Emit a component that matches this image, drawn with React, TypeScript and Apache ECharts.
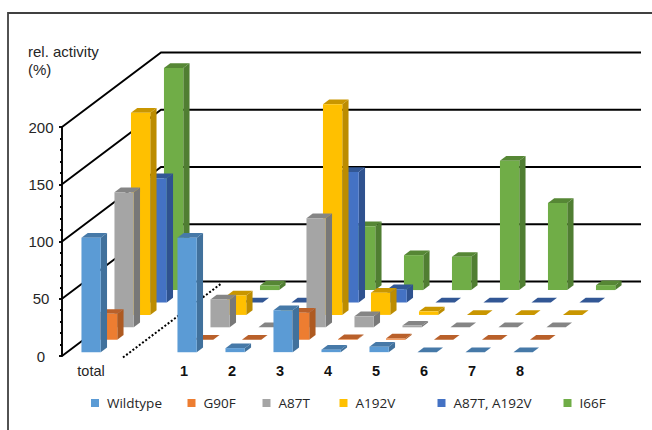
import React, { useEffect, useRef } from "react";
import * as echarts from "echarts";

// Enzyme activity per fraction, one row of bars per variant.
const categories = ["total", "", "1", "2", "3", "4", "5", "6", "7", "8"];
const wildtype = [100, null, 100, 3.5, 36.6, 2.2, 4.7, 0, 0, 0];
const g90f = [22.6, null, 0, 0, 23.5, 0.5, 1, 0, 0, 0];
const a87t = [118, null, 24.4, 0, 95.3, 9.6, 1.5, 0, 0, 0];
const a192v = [176.5, null, 17, 0, 184, 19.4, 3.1, 0, 0, 0];
const a87tA192v = [108.6, null, 0, 0, 113.9, 11.6, 0, 0, 0, 0];
const i66f = [194, null, 4, 0, 55.7, 30.5, 29, 113, 76, 4.3];
const yTicks = [0, 50, 100, 150, 200];

const seriesNames = ["Wildtype", "G90F", "A87T", "A192V", "A87T, A192V", "I66F"];
const seriesValues = [wildtype, g90f, a87t, a192v, a87tA192v, i66f];
const faceColors = ["#5B9BD5", "#ED7D31", "#A5A5A5", "#FFC000", "#4472C4", "#70AD47"];
const sideColors = ["#41719C", "#AE5A21", "#787878", "#BC8C00", "#2F528F", "#507E32"];
const topColors = ["#4679A8", "#B9602A", "#858585", "#C99600", "#325795", "#568735"];
const legendLefts = [91, 187.5, 262.5, 339.5, 437.5, 563.5];

// Oblique projection: the six variant rows recede up and to the right.
const WALL_DX = 99;
const WALL_DY = 74.5;
const ROW_DX = WALL_DX / seriesNames.length;
const ROW_DY = WALL_DY / seriesNames.length;
const BAR_WIDTH_RATIO = 0.402;
const BAR_DEPTH_RATIO = 0.38;
const DIVIDER_OFFSET = 0.77;

const barItem = (row: number) => (_params: any, api: any) => {
  const slot = api.size([1, 0])[0];
  const width = slot * BAR_WIDTH_RATIO;
  const [cx, topY] = api.coord([api.value(0), api.value(1)]);
  const baseY0 = api.coord([api.value(0), 0])[1];
  const inset = (1 - BAR_DEPTH_RATIO) / 2;
  const x0 = cx - width / 2 + (row + inset) * ROW_DX;
  const x1 = x0 + width;
  const yb = baseY0 - (row + inset) * ROW_DY;
  const yt = topY - (row + inset) * ROW_DY;
  const dx = ROW_DX * BAR_DEPTH_RATIO;
  const dy = ROW_DY * BAR_DEPTH_RATIO;
  const poly = (points: number[][], fill: string) => ({
    type: "polygon",
    shape: { points },
    style: { fill },
  });
  return {
    type: "group",
    children: [
      poly([[x1, yb], [x1 + dx, yb - dy], [x1 + dx, yt - dy], [x1, yt]], sideColors[row]),
      poly([[x0, yt], [x1, yt], [x1 + dx, yt - dy], [x0 + dx, yt - dy]], topColors[row]),
      poly([[x0, yb], [x1, yb], [x1, yt], [x0, yt]], faceColors[row]),
    ],
  };
};

// Receding grid lines from the value axis to the back wall, then across it.
const wallItem = (_params: any, api: any) => {
  const slot = api.size([1, 0])[0];
  const [firstCentre, y] = api.coord([0, api.value(0)]);
  const lastCentre = api.coord([categories.length - 1, api.value(0)])[0];
  const x = firstCentre - slot / 2;
  const right = lastCentre + slot / 2;
  return {
    type: "polyline",
    shape: {
      points: [
        [x, y],
        [x + WALL_DX, y - WALL_DY],
        [right + WALL_DX, y - WALL_DY],
      ],
    },
    style: { stroke: "#000", lineWidth: 1.9, fill: "none" },
  };
};

// Dotted floor line that sets the "total" bars apart from the fractions.
const dividerItem = (_params: any, api: any) => {
  const slot = api.size([1, 0])[0];
  const [centre, y] = api.coord([0, 0]);
  const x = centre + slot * DIVIDER_OFFSET;
  return {
    type: "line",
    shape: { x1: x, y1: y + 1.5, x2: x + WALL_DX, y2: y + 1.5 - WALL_DY },
    style: { stroke: "#000", lineWidth: 2, lineDash: [2, 2] },
  };
};

export default function App() {
  const ref = useRef<HTMLDivElement>(null);

  useEffect(() => {
    const chart = echarts.init(ref.current!, null, { renderer: "svg" });
    chart.setOption({
      animation: false,
      backgroundColor: "#fff",
      title: {
        text: "rel. activity\n(%)",
        left: 28,
        top: 42,
        textStyle: {
          fontFamily: "Liberation Sans",
          fontSize: 15,
          fontWeight: "normal",
          color: "#262626",
          lineHeight: 18,
        },
        padding: 0,
      },
      grid: { left: 62, right: 110, top: 127, bottom: 74 },
      xAxis: {
        type: "category",
        data: categories,
        axisLine: { show: false },
        axisTick: { show: false },
        axisLabel: {
          interval: 0,
          margin: 7,
          formatter: (v: string) =>
            v === "total" ? `{plain|${v}}` : v ? `{num|${v}}` : "",
          rich: {
            plain: {
              fontFamily: "Liberation Sans",
              fontSize: 14.5,
              color: "#262626",
              padding: [0, 0, 0, 10],
            },
            num: {
              fontFamily: "Liberation Sans",
              fontSize: 14.5,
              fontWeight: "bold",
              color: "#111",
              padding: [0, 0, 0, 4],
            },
          },
        },
      },
      yAxis: {
        type: "value",
        min: 0,
        max: 200,
        interval: 50,
        splitLine: { show: false },
        axisLine: { show: true, lineStyle: { color: "#000", width: 1.9 } },
        axisTick: { show: true, length: 3, lineStyle: { color: "#000", width: 1.9 } },
        minorTick: { show: true, splitNumber: 5, length: 2, lineStyle: { color: "#000", width: 1.9 } },
        axisLabel: {
          align: "center",
          margin: 21,
          fontFamily: "Liberation Sans",
          fontSize: 15,
          color: "#262626",
        },
      },
      legend: seriesNames.map((name, i) => ({
        data: [{ name, icon: "rect" }],
        left: legendLefts[i],
        top: 396,
        padding: 0,
        itemWidth: 8,
        itemHeight: 8,
        selectedMode: false,
        textStyle: {
          fontFamily: "Open Sans",
          fontSize: 13.5,
          color: "#262626",
          padding: [0, 0, 0, 3],
        },
      })),
      graphic: [
        {
          type: "polyline",
          silent: true,
          shape: { points: [[8, 430], [8, 13], [652, 13]] },
          style: { stroke: "#404040", lineWidth: 1.8, fill: "none" },
        },
      ],
      series: [
        {
          type: "custom",
          name: "wall",
          z: 1,
          data: yTicks.map((v) => [v]),
          encode: { y: 0 },
          renderItem: wallItem,
          silent: true,
        },
        {
          type: "custom",
          name: "divider",
          z: 1,
          data: [[0]],
          encode: { x: 0 },
          renderItem: dividerItem,
          silent: true,
        },
        ...seriesNames.map((name, row) => ({
          type: "custom",
          name,
          z: 10 - row,
          itemStyle: { color: faceColors[row] },
          encode: { x: 0, y: 1 },
          data: seriesValues[row]
            .map((v, i) => [i, v])
            .filter((d) => d[1] !== null),
          renderItem: barItem(row),
        })),
      ],
    });
    return () => chart.dispose();
  }, []);

  return (
    <div
      ref={ref}
      style={{ position: "absolute", left: 0, top: 0, width: 652, height: 430 }}
    />
  );
}
